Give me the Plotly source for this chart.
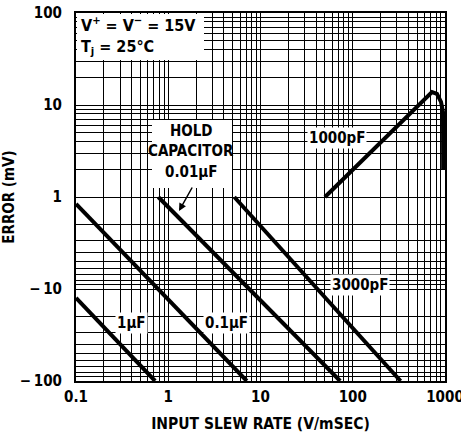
import numpy as np
import plotly.graph_objects as go

# ---------------- data ----------------
x_tick_vals = [0.1, 1, 10, 100, 1000]
x_tick_text = ["0.1", "1", "10", "100", "1000"]
y_tick_mv = [100, 10, 1, -10, -100]
y_tick_text = ["100", "10", "1", "\u2212\u200910", "\u2212\u2009100"]

slew_1uF = [0.1, 0.72]
err_1uF = [-12.5, -100]
slew_01uF = [0.1, 7.1]
err_01uF = [-1.19, -100]
slew_001uF = [0.78, 73]
err_001uF = [-1.0, -100]
slew_3000pF = [5.2, 330]
err_3000pF = [-1.0, -100]
slew_1000pF = [50, 418, 607, 723, 819, 905, 951, 955]
err_1000pF = [1.0, 8.0, 11.9, 13.8, 13.2, 10.8, 8.4, 2.0]

FONT = "DejaVu Sans Condensed, Liberation Sans Narrow, sans-serif"

def symlog(v):
    v = np.asarray(v, dtype=float)
    return np.sign(v) * np.log10(np.abs(v))

W, H = 461, 436
BOX_L, BOX_R, BOX_T, BOX_B = 76, 445, 13, 381   # plot box in window pixels
L, R, T, B = BOX_L, W - BOX_R, BOX_T, H - BOX_B
PW, PH = BOX_R - BOX_L, BOX_B - BOX_T
def px(x):
    return (x - BOX_L) / PW
def py(y):
    return (BOX_B - y) / PH

fig = go.Figure()
for xs, ys in [(slew_1uF, err_1uF), (slew_01uF, err_01uF), (slew_001uF, err_001uF),
               (slew_3000pF, err_3000pF), (slew_1000pF, err_1000pF)]:
    fig.add_trace(go.Scatter(x=xs, y=symlog(ys), mode="lines",
                             line=dict(color="black", width=4), showlegend=False,
                             hoverinfo="skip"))

# minor grid positions
x_grid = [k * 10.0 ** d for d in range(-1, 3) for k in range(2, 10)]
y_grid = set()
for d in range(0, 2):
    for k in range(2, 10):
        y_grid.add(k * 10.0 ** d)
        y_grid.add(-k * 10.0 ** d)
y_grid_t = [float(t) for t in symlog(sorted(y_grid))]

tick_font = dict(family=FONT, size=15, color="black", weight="bold")
fig.update_xaxes(type="log", range=[-1, 3], tickvals=x_tick_vals, ticktext=x_tick_text,
                 showgrid=True, gridcolor="black", gridwidth=1.3, ticks="",
                 minor=dict(tickvals=x_grid, showgrid=True, gridcolor="black", gridwidth=1.2,
                            ticks=""),
                 showline=True, linecolor="black", linewidth=2, mirror=True,
                 zeroline=False, ticklabelstandoff=1, automargin=False,
                 ticklabeloverflow="allow", tickfont=tick_font,
                 title=dict(text="INPUT SLEW RATE (V/mSEC)", standoff=13,
                            font=dict(family=FONT, size=15.5, color="black", weight="bold")))
fig.update_yaxes(range=[-2, 2], tickvals=[float(t) for t in symlog(y_tick_mv)],
                 ticktext=y_tick_text,
                 showgrid=True, gridcolor="black", gridwidth=1.3, ticks="",
                 minor=dict(tickvals=y_grid_t, showgrid=True, gridcolor="black", gridwidth=1.2,
                            ticks=""),
                 showline=True, linecolor="black", linewidth=2, mirror=True,
                 zeroline=False, ticklabelstandoff=9, automargin=False,
                 ticklabeloverflow="allow", tickfont=tick_font,
                 title=dict(text="ERROR (mV)", standoff=2,
                            font=dict(family=FONT, size=15, color="black", weight="bold")))

shapes = [
    dict(type="rect", xref="paper", yref="paper", x0=px(77), x1=px(204), y0=py(60), y1=py(14),
         fillcolor="white", line=dict(width=0), layer="above"),
    dict(type="rect", xref="paper", yref="paper", x0=px(152), x1=px(232), y0=py(188), y1=py(120),
         fillcolor="white", line=dict(width=0), layer="above"),
]

lab_font = dict(family=FONT, size=15, color="black", weight="bold")
ann = []
def text(x, y, s, bg=None, xanchor="center", size=15):
    f = dict(lab_font)
    f["size"] = size
    d = dict(xref="paper", yref="paper", x=px(x), y=py(y), text=s, showarrow=False,
             font=f, xanchor=xanchor, yanchor="middle", borderpad=1, align="left")
    if bg:
        d["bgcolor"] = bg
    ann.append(d)

text(79, 36, "V<sup>+</sup> = V<sup>\u2212</sup> = 15V<br>T<sub>j</sub> = 25\u00b0C",
     xanchor="left", size=16)
text(191, 131, "HOLD")
text(191, 151, "CAPACITOR")
text(191, 172, "0.01\u03bcF")
text(337, 138, "1000pF", bg="white")
text(360, 285, "3000pF", bg="white")
text(131, 323, "1\u03bcF", bg="white")
text(226, 323, "0.1\u03bcF", bg="white")
ann.append(dict(xref="paper", yref="paper", x=px(179), y=py(211), ax=14, ay=-25,
                showarrow=True, arrowhead=2, arrowsize=1, arrowwidth=1.5,
                arrowcolor="black", text=""))

fig.update_layout(width=W, height=H, margin=dict(l=L, r=R, t=T, b=B),
                  paper_bgcolor="white", plot_bgcolor="white",
                  shapes=shapes, annotations=ann,
                  font=dict(family=FONT, color="black"))

# remove the browser's default 8px page margin so the figure fills the window
fig.write_html("out.html", config={"displayModeBar": False},
               post_script="document.body.style.margin='0px';")
